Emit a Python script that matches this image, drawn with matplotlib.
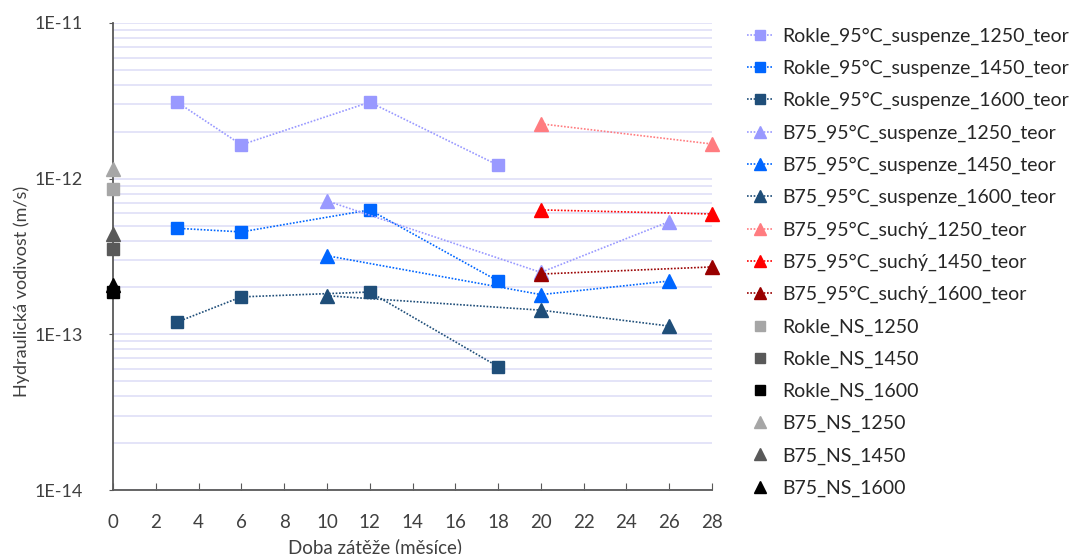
import matplotlib
matplotlib.use("Agg")
import matplotlib.pyplot as plt
from matplotlib.ticker import FixedLocator, FuncFormatter, LogLocator, NullFormatter

plt.rcParams['font.family'] = ['Lato', 'DejaVu Sans']

# ---- data ----
x_rokle = [3, 6, 12, 18]
rokle_1250 = [3.1e-12, 1.65e-12, 3.1e-12, 1.22e-12]
rokle_1450 = [4.8e-13, 4.55e-13, 6.3e-13, 2.2e-13]
rokle_1600 = [1.2e-13, 1.74e-13, 1.87e-13, 6.2e-14]

x_b75 = [10, 20, 26]
b75_1250 = [7.2e-13, 2.5e-13, 5.3e-13]
b75_1450 = [3.2e-13, 1.8e-13, 2.2e-13]
b75_1600 = [1.77e-13, 1.43e-13, 1.13e-13]

x_suchy = [20, 28]
suchy_1250 = [2.25e-12, 1.67e-12]
suchy_1450 = [6.3e-13, 5.93e-13]
suchy_1600 = [2.44e-13, 2.71e-13]

x_ns = [0]
rokle_ns_1250 = [8.6e-13]
rokle_ns_1450 = [3.55e-13]
rokle_ns_1600 = [1.87e-13]
b75_ns_1250 = [1.15e-12]
b75_ns_1450 = [4.4e-13]
b75_ns_1600 = [2.07e-13]

x_ticks = list(range(0, 29, 2))
y_ticks = [1e-14, 1e-13, 1e-12, 1e-11]
y_labels = ['1E-14', '1E-13', '1E-12', '1E-11']

c_light = '#9999FF'
c_mid = '#0066FF'
c_dark = '#1F4E79'
c_pink = '#FF7C80'
c_red = '#FF0000'
c_dred = '#990000'

fig = plt.figure(figsize=(10.73, 5.54), dpi=100)
ax = fig.add_axes([0.1053, 0.1155, 0.5583, 0.843])

line_series = [
    (x_rokle, rokle_1250, c_light, 's', 'Rokle_95°C_suspenze_1250_teor'),
    (x_rokle, rokle_1450, c_mid, 's', 'Rokle_95°C_suspenze_1450_teor'),
    (x_rokle, rokle_1600, c_dark, 's', 'Rokle_95°C_suspenze_1600_teor'),
    (x_b75, b75_1250, c_light, '^', 'B75_95°C_suspenze_1250_teor'),
    (x_b75, b75_1450, c_mid, '^', 'B75_95°C_suspenze_1450_teor'),
    (x_b75, b75_1600, c_dark, '^', 'B75_95°C_suspenze_1600_teor'),
    (x_suchy, suchy_1250, c_pink, '^', 'B75_95°C_suchý_1250_teor'),
    (x_suchy, suchy_1450, c_red, '^', 'B75_95°C_suchý_1450_teor'),
    (x_suchy, suchy_1600, c_dred, '^', 'B75_95°C_suchý_1600_teor'),
]
for xs, ys, c, m, lab in line_series:
    ax.plot(xs, ys, color=c, linestyle=(0, (1, 1)), linewidth=1.2,
            marker=m, markersize=9 if m == 's' else 9.5,
            markerfacecolor=c, markeredgecolor=c, label=lab, clip_on=False, zorder=3)

ns_series = [
    (rokle_ns_1250, '#A6A6A6', 's', 'Rokle_NS_1250'),
    (rokle_ns_1450, '#595959', 's', 'Rokle_NS_1450'),
    (rokle_ns_1600, '#000000', 's', 'Rokle_NS_1600'),
    (b75_ns_1250, '#A6A6A6', '^', 'B75_NS_1250'),
    (b75_ns_1450, '#595959', '^', 'B75_NS_1450'),
    (b75_ns_1600, '#000000', '^', 'B75_NS_1600'),
]
for ys, c, m, lab in ns_series:
    ax.plot(x_ns, ys, linestyle='none', color=c, marker=m,
            markersize=9 if m == 's' else 9.5, label=lab, clip_on=False, zorder=4)

ax.set_yscale('log')
ax.set_ylim(1e-14, 1e-11)
ax.set_xlim(0, 28)

ax.yaxis.set_major_locator(FixedLocator(y_ticks))
ax.yaxis.set_major_formatter(FuncFormatter(lambda v, p: y_labels[y_ticks.index(min(y_ticks, key=lambda t: abs(t - v)))]))
ax.yaxis.set_minor_locator(LogLocator(base=10, subs=range(2, 10)))
ax.yaxis.set_minor_formatter(NullFormatter())
ax.set_xticks(x_ticks)

ax.grid(True, which='both', axis='y', color='#E2E2F8', linewidth=1.3, zorder=0)
ax.set_axisbelow(True)

for s in ['top', 'right']:
    ax.spines[s].set_visible(False)
for s in ['left', 'bottom']:
    ax.spines[s].set_color('#595959')
    ax.spines[s].set_linewidth(1.3)

ax.tick_params(axis='x', direction='in', length=5, color='#595959', labelsize=13.5, pad=17, labelcolor='#404040')
ax.tick_params(axis='y', which='major', direction='out', length=3, color='#595959', labelsize=13, pad=19, labelcolor='#404040')
ax.tick_params(axis='y', which='minor', length=0)

ax.set_xlabel('Doba zátěže (měsíce)', fontsize=13.5, color='#404040', va='center')
ax.xaxis.set_label_coords((375 - 113) / 599, (490 - 547) / 467)
ax.set_ylabel('Hydraulická vodivost (m/s)', fontsize=13, color='#404040', va='center')
ax.yaxis.set_label_coords((22 - 113) / 599, (490 - 291) / 467)

fig.legend(loc='upper left', bbox_to_anchor=(0.680, 0.982), frameon=False,
           fontsize=14, labelspacing=0.77, handlelength=1.3, handletextpad=0.5,
           markerscale=0.85, labelcolor='#262626')

fig.savefig('out.png', dpi=100)
